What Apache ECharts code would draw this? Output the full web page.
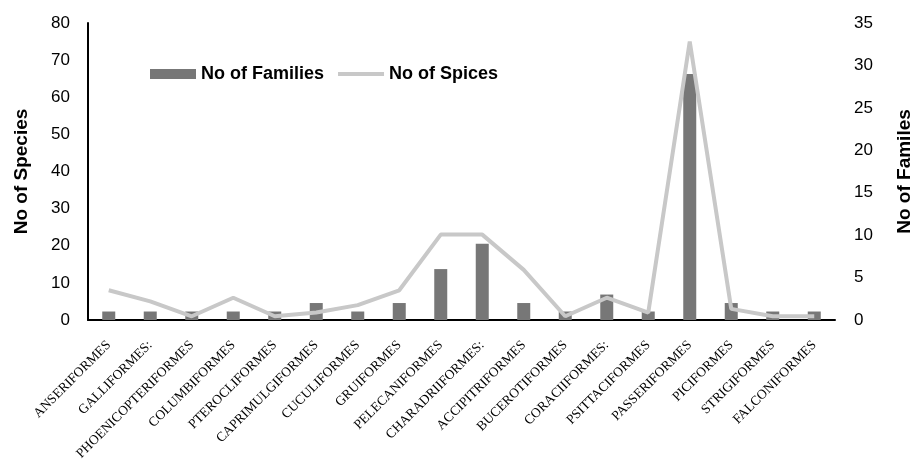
<!doctype html>
<html>
<head>
    <meta charset="utf-8">
    <script src="https://cdn.jsdelivr.net/npm/echarts@6/dist/echarts.min.js"></script>
</head>
<body style="margin: 0; width: 912px; height: 463px; background: #fff">
    <div id="container" style="width: 912px; height: 463px"></div>
    <script type="text/javascript">
        var orders = ['ANSERIFORMES', 'GALLIFORMES:', 'PHOENICOPTERIFORMES', 'COLUMBIFORMES', 'PTEROCLIFORMES',
            'CAPRIMULGIFORMES', 'CUCULIFORMES', 'GRUIFORMES', 'PELECANIFORMES', 'CHARADRIIFORMES:',
            'ACCIPITRIFORMES', 'BUCEROTIFORMES', 'CORACIIFORMES:', 'PSITTACIFORMES', 'PASSERIFORMES',
            'PICIFORMES', 'STRIGIFORMES', 'FALCONIFORMES'];
        // families (right axis) and species (left axis)
        var families = [1, 1, 1, 1, 1, 2, 1, 2, 6, 9, 2, 1, 3, 1, 29, 2, 1, 1];
        var species = [8, 5, 1, 6, 1, 2, 4, 8, 23, 23, 13.5, 1, 6, 2, 75, 3, 1, 1];

        var myChart = echarts.init(document.getElementById('container'));
        var axisFont = { fontFamily: 'Liberation Sans', fontSize: 17, color: '#000' };
        var nameFont = { fontFamily: 'Liberation Sans', fontSize: 19, fontWeight: 'bold', color: '#000' };

        var option = {
            animation: false,
            grid: { left: 88, right: 77, top: 23, bottom: 143, outerBoundsMode: 'none', containLabel: false },
            legend: {
                left: 145, top: 60,
                itemWidth: 46, itemHeight: 10, itemGap: 14,
                textStyle: { fontFamily: 'Liberation Sans', fontSize: 18, fontWeight: 'bold', color: '#000' },
                data: [
                    { name: 'No of Families', icon: 'rect' },
                    { name: 'No of Spices', icon: 'path://M0,0H46V4H0Z', itemStyle: { color: '#c8c8c8' } }
                ]
            },
            xAxis: {
                type: 'category',
                data: orders,
                axisLine: { lineStyle: { color: '#000', width: 2 } },
                axisTick: { show: false },
                axisLabel: {
                    interval: 0, rotate: 45, margin: 23,
                    fontFamily: 'Liberation Serif', fontSize: 13.5, color: '#000'
                }
            },
            yAxis: [{
                type: 'value', min: 0, max: 80, interval: 10,
                name: 'No of Species', nameLocation: 'middle', nameGap: 57, nameTextStyle: nameFont,
                axisLine: { show: true, lineStyle: { color: '#000', width: 2 } },
                axisTick: { show: false },
                splitLine: { show: false },
                axisLabel: Object.assign({ margin: 18 }, axisFont)
            }, {
                type: 'value', min: 0, max: 35, interval: 5,
                name: 'No of Familes', nameLocation: 'middle', nameGap: 60, nameTextStyle: nameFont,
                axisLine: { show: false },
                axisTick: { show: false },
                splitLine: { show: false },
                axisLabel: Object.assign({ margin: 19 }, axisFont)
            }],
            series: [{
                name: 'No of Families',
                type: 'bar',
                yAxisIndex: 1,
                barWidth: 13,
                itemStyle: { color: '#777777' },
                data: families
            }, {
                name: 'No of Spices',
                type: 'line',
                yAxisIndex: 0,
                symbol: 'none',
                lineStyle: { color: '#c8c8c8', width: 4 },
                itemStyle: { color: '#c8c8c8' },
                data: species
            }]
        };
        myChart.setOption(option);
    </script>
</body>
</html>
